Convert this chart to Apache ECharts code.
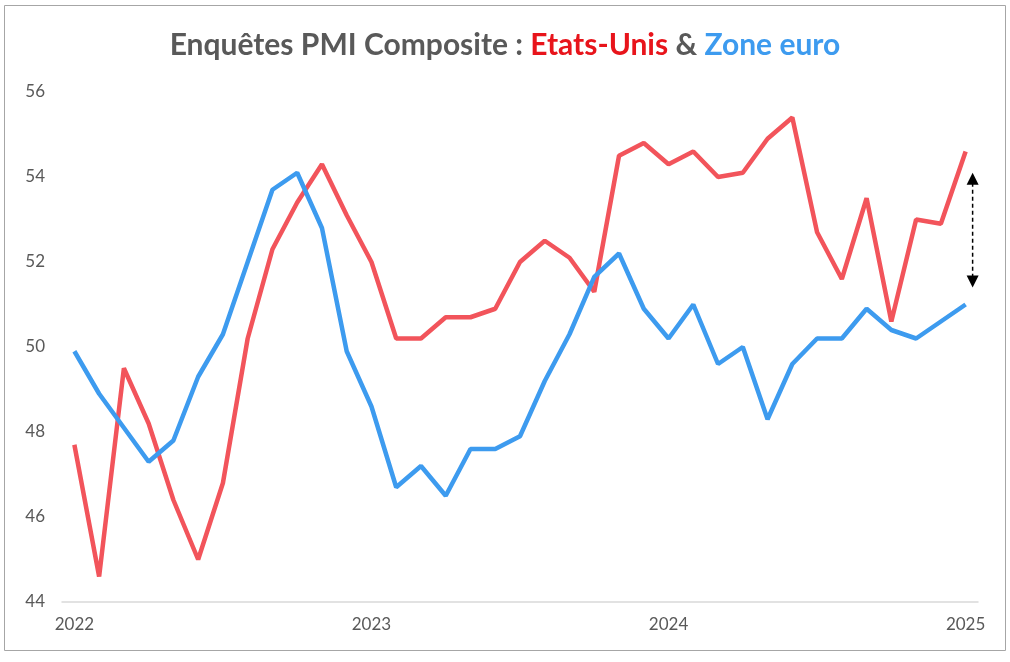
<!DOCTYPE html>
<html>
<head>
<meta charset="utf-8">
<script src="https://cdn.jsdelivr.net/npm/echarts@6/dist/echarts.min.js"></script>
<style>
html, body { margin: 0; padding: 0; background: #fff; }
#main { width: 1010px; height: 662px; }
</style>
</head>
<body>
<div id="main"></div>
<script>
// months Jan 2022 .. Jan 2025
var months = [];
for (var y = 2022; y <= 2025; y++) {
	for (var m = 1; m <= 12; m++) {
		if (y == 2025 && m > 1) break;
		months.push(y + '-' + (m < 10 ? '0' + m : m));
	}
}

var etatsUnis = [47.7, 44.6, 49.5, 48.2, 46.4, 45.0, 46.8, 50.2, 52.3, 53.4, 54.3, 53.1,
	52.0, 50.2, 50.2, 50.7, 50.7, 50.9, 52.0, 52.5, 52.1, 51.3, 54.5, 54.8,
	54.3, 54.6, 54.0, 54.1, 54.9, 55.4, 52.7, 51.6, 53.5, 50.6, 53.0, 52.9,
	54.6];

var zoneEuro = [49.9, 48.9, 48.1, 47.3, 47.8, 49.3, 50.3, 52.0, 53.7, 54.1, 52.8, 49.9,
	48.6, 46.7, 47.2, 46.5, 47.6, 47.6, 47.9, 49.2, 50.3, 51.65, 52.2, 50.9,
	50.2, 51.0, 49.6, 50.0, 48.3, 49.6, 50.2, 50.2, 50.9, 50.4, 50.2, 50.6,
	51.0];

// gap arrow (y values at its two tips)
var arrowTop = 54.1;
var arrowBottom = 51.4;

var red = '#F2545B';
var blue = '#3D9BEF';
var grey = '#595959';

var myChart = echarts.init(document.getElementById('main'));
var titleFont = { fontFamily: 'Lato', fontWeight: 'bold', fontSize: 30 };
var option = {
	backgroundColor: '#fff',
	animation: false,
	title: {
		text: '{a|Enquêtes PMI Composite : }{r|Etats-Unis}{a| & }{b|Zone euro}',
		left: 'center',
		top: 25,
		textStyle: {
			rich: {
				a: Object.assign({ color: grey }, titleFont),
				r: Object.assign({ color: '#E8141B' }, titleFont),
				b: Object.assign({ color: blue }, titleFont)
			}
		}
	},
	grid: {
		left: 62,
		right: 32,
		top: 92,
		bottom: 60
	},
	xAxis: {
		type: 'category',
		data: months,
		boundaryGap: true,
		axisLine: { lineStyle: { color: '#D9D9D9', width: 1.5 } },
		axisTick: { interval: 11, length: 5, lineStyle: { color: '#D0D0D0', width: 1.5 } },
		axisLabel: {
			interval: 11,
			margin: 14,
			color: grey,
			fontFamily: 'Lato',
			fontSize: 17,
			formatter: function(v) { return v.substring(0, 4); }
		}
	},
	yAxis: {
		type: 'value',
		min: 44,
		max: 56,
		interval: 2,
		axisLine: { show: false },
		axisTick: { show: false },
		splitLine: { show: false },
		axisLabel: { color: grey, fontFamily: 'Lato', fontSize: 17, margin: 17 }
	},
	series: [{
		name: 'Etats-Unis',
		type: 'line',
		data: etatsUnis,
		symbol: 'none',
		lineStyle: { color: red, width: 4.5 },
		itemStyle: { color: red }
	}, {
		name: 'Zone euro',
		type: 'line',
		data: zoneEuro,
		symbol: 'none',
		lineStyle: { color: blue, width: 4.5 },
		itemStyle: { color: blue }
	}]
};
myChart.setOption(option);

// frame and arrow positioned from the axes
var last = months.length - 1;
var pTop = myChart.convertToPixel({ seriesIndex: 0 }, [last, arrowTop]);
var pBot = myChart.convertToPixel({ seriesIndex: 0 }, [last, arrowBottom]);
var ax = pTop[0] + 7;
myChart.setOption({
	graphic: [{
		type: 'rect',
		shape: { x: 4.5, y: 5.5, width: 1001, height: 645 },
		style: { fill: 'none', stroke: '#A6A6A6', lineWidth: 1 },
		silent: true
	}, {
		type: 'line',
		shape: { x1: ax, y1: pTop[1] + 10, x2: ax, y2: pBot[1] - 10 },
		style: { stroke: '#000', lineWidth: 1.5, lineDash: [4, 3] }
	}, {
		type: 'polygon',
		shape: { points: [[ax, pTop[1]], [ax - 6, pTop[1] + 12], [ax + 6, pTop[1] + 12]] },
		style: { fill: '#000' }
	}, {
		type: 'polygon',
		shape: { points: [[ax, pBot[1]], [ax - 6, pBot[1] - 12], [ax + 6, pBot[1] - 12]] },
		style: { fill: '#000' }
	}]
});
</script>
</body>
</html>
